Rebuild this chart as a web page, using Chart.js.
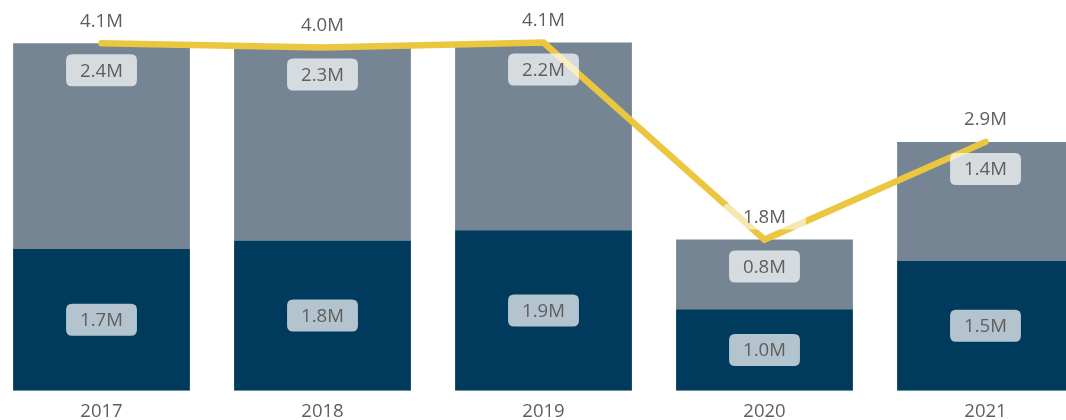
<!DOCTYPE html>
<html>
<head>
<meta charset="utf-8">
<script src="https://cdn.jsdelivr.net/npm/chart.js@4/dist/chart.umd.min.js"></script>
<style>
  html, body { margin: 0; padding: 0; background: #fff; overflow: hidden; width: 1066px; height: 420px; }
  #wrap { position: absolute; left: -9px; top: 0; width: 1105px; height: 433px; }
  canvas { display: block; }
</style>
</head>
<body>
<div id="wrap"><canvas id="c" width="1105" height="433"></canvas></div>
<script>
const categories = ['2017', '2018', '2019', '2020', '2021'];
const lowerValues = [1.67, 1.77, 1.89, 0.96, 1.53];
const upperValues = [2.42, 2.27, 2.21, 0.82, 1.40];
const totalValues = [4.09, 4.04, 4.10, 1.78, 2.93];

const FONT = "'Open Sans', 'Noto Sans', sans-serif";
const TEXT = '#605E5C';
const fmt = v => v.toFixed(1) + 'M';

function roundRect(ctx, x, y, w, h, r) {
  ctx.beginPath();
  ctx.moveTo(x + r, y);
  ctx.lineTo(x + w - r, y);
  ctx.quadraticCurveTo(x + w, y, x + w, y + r);
  ctx.lineTo(x + w, y + h - r);
  ctx.quadraticCurveTo(x + w, y + h, x + w - r, y + h);
  ctx.lineTo(x + r, y + h);
  ctx.quadraticCurveTo(x, y + h, x, y + h - r);
  ctx.lineTo(x, y + r);
  ctx.quadraticCurveTo(x, y, x + r, y);
  ctx.closePath();
}

function drawLabel(ctx, text, cx, cy, padX, h, bg) {
  ctx.font = '18.6px ' + FONT;
  const w = ctx.measureText(text).width + padX * 2;
  ctx.fillStyle = bg;
  roundRect(ctx, cx - w / 2, cy - h / 2, w, h, 6);
  ctx.fill();
  ctx.fillStyle = TEXT;
  ctx.textAlign = 'center';
  ctx.textBaseline = 'middle';
  ctx.fillText(text, cx, cy + 1);
}

const labelPlugin = {
  id: 'valueLabels',
  afterDatasetsDraw(chart) {
    const ctx = chart.ctx;
    ctx.save();
    const lineMeta = chart.getDatasetMeta(2);
    lineMeta.data.forEach((pt, i) => {
      drawLabel(ctx, fmt(totalValues[i]), pt.x, pt.y - 23, 20, 26, 'rgba(255,255,255,0.6)');
    });
    chart.getDatasetMeta(0).data.forEach((el, i) => {
      drawLabel(ctx, fmt(lowerValues[i]), el.x, (el.y + el.base) / 2, 14, 32, 'rgba(255,255,255,0.7)');
    });
    chart.getDatasetMeta(1).data.forEach((el, i) => {
      drawLabel(ctx, fmt(upperValues[i]), el.x, el.y + 27, 14, 32, 'rgba(255,255,255,0.7)');
    });
    ctx.restore();
  }
};

new Chart(document.getElementById('c'), {
  data: {
    labels: categories,
    datasets: [
      { type: 'bar', data: lowerValues, backgroundColor: '#003A5C', stack: 'bars', order: 1,
        categoryPercentage: 0.8, barPercentage: 1.0, borderWidth: 0 },
      { type: 'bar', data: upperValues, backgroundColor: '#768593', stack: 'bars', order: 1,
        categoryPercentage: 0.8, barPercentage: 1.0, borderWidth: 0 },
      { type: 'line', data: totalValues, borderColor: '#EBC63F', borderWidth: 6.5, stack: 'line', order: 0,
        pointRadius: 0, tension: 0, borderCapStyle: 'round', borderJoinStyle: 'miter', fill: false }
    ]
  },
  options: {
    responsive: false,
    animation: false,
    devicePixelRatio: 1,
    layout: { padding: 0 },
    plugins: { legend: { display: false }, tooltip: { enabled: false } },
    scales: {
      x: {
        stacked: true,
        offset: true,
        grid: { display: false, drawTicks: false },
        border: { display: false },
        ticks: { color: TEXT, font: { family: FONT, size: 18.5 }, padding: 10, maxRotation: 0 }
      },
      y: {
        stacked: true,
        display: false,
        min: 0,
        max: 4.6
      }
    }
  },
  plugins: [labelPlugin]
});
</script>
</body>
</html>
